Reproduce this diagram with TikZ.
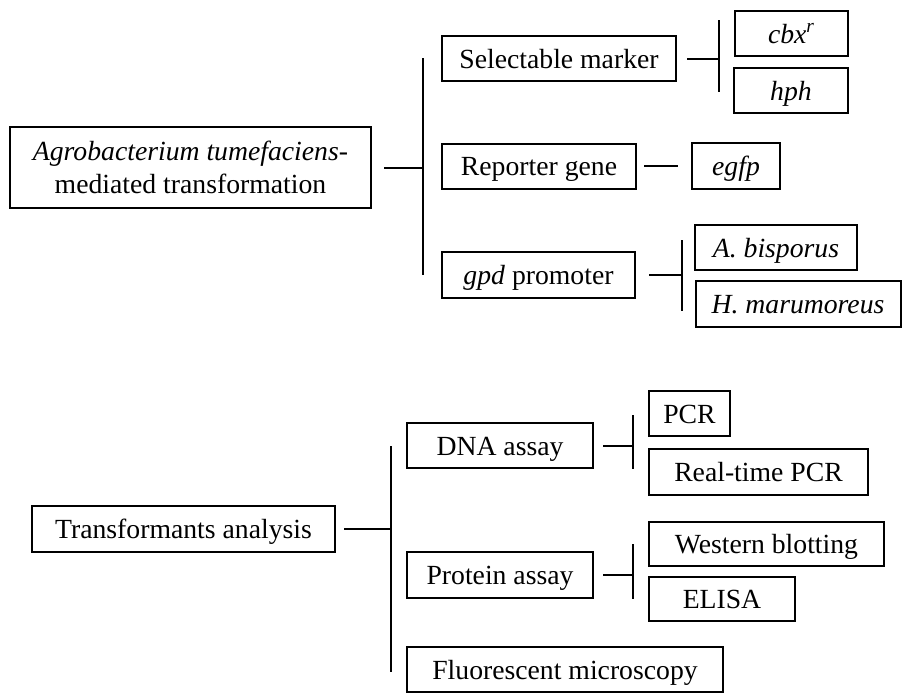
\documentclass[tikz,border=0pt]{standalone}
\usepackage{fontspec}
\setmainfont{Liberation Serif}
\usetikzlibrary{positioning}

\begin{document}
\begin{tikzpicture}[x=0.5pt, y=-0.5pt, line width=1pt,
    box/.style={draw, inner sep=0pt, minimum height=22.5pt, text height=9.5pt, text depth=0pt,
        font=\fontsize{13.85}{16.5}\selectfont},
    link/.style={shorten <=5pt}]
    \useasboundingbox (0,0) rectangle (902,693);

    % transformation part
    \node[box, minimum width=180.5pt, minimum height=40.5pt, text height=26pt, align=center] (agro) at (190.5,167.5)
        {\textit{Agrobacterium tumefaciens}-\\mediated transformation};
    \node[box, minimum width=117pt] (sel) at (559,58.5) {Selectable marker};
    \node[box, minimum width=97pt] (rep) at (539,166) {Reporter gene};
    \node[box, minimum width=96.5pt, minimum height=23pt] (gpd) at (538.5,275) {\textit{gpd} promoter};
    \node[box, minimum width=56.5pt] (cbx) at (791.5,33.5) {\textit{cbx\textsuperscript{r}}};
    \node[box, minimum width=57pt] (hph) at (791,90.5) {\textit{hph}};
    \node[box, minimum width=44pt, minimum height=23pt] (egfp) at (736,166) {\textit{egfp}};
    \node[box, minimum width=81pt] (abis) at (776,247.5) {\textit{A. bisporus}};
    \node[box, minimum width=102.5pt, minimum height=23pt] (hmar) at (798,304) {\textit{H. marumoreus}};

    \coordinate (b1a) at (423,58);  \coordinate (b1b) at (423,275);
    \coordinate (b2a) at (719,20);  \coordinate (b2b) at (719,92);
    \coordinate (b3a) at (682,240); \coordinate (b3b) at (682,311);
    \draw (b1a) -- (b1b);
    \draw (b2a) -- (b2b);
    \draw (b3a) -- (b3b);
    \draw[link, shorten <=6pt] (agro.east) -- (agro.east -| b1a);
    \draw[link] (sel.east) -- (sel.east -| b2a);
    \draw[link, shorten <=3.5pt, shorten >=6.5pt] (rep.east) -- (rep.east -| egfp.west);
    \draw[link, shorten <=6.5pt] (gpd.east) -- (gpd.east -| b3a);

    % analysis part
    \node[box, minimum width=151.5pt, minimum height=23pt] (trans) at (183.5,529) {Transformants analysis};
    \node[box, minimum width=93pt] (dna) at (500,445.5) {DNA assay};
    \node[box, minimum width=93pt, minimum height=23pt] (prot) at (500,575) {Protein assay};
    \node[box, minimum width=158pt] (fluo) at (565,669.5) {Fluorescent microscopy};
    \node[box, minimum width=40.5pt] (pcr) at (689.5,413.5) {PCR};
    \node[box, minimum width=109.5pt, minimum height=23pt] (rtpcr) at (758.5,472) {Real-time PCR};
    \node[box, minimum width=117.5pt, minimum height=22pt] (west) at (766.5,544) {Western blotting};
    \node[box, minimum width=73pt, minimum height=22pt] (elisa) at (722,599) {ELISA};

    \coordinate (b4a) at (391,446); \coordinate (b4b) at (391,672);
    \coordinate (b5a) at (633,415); \coordinate (b5b) at (633,469);
    \coordinate (b6a) at (633,544); \coordinate (b6b) at (633,599);
    \draw (b4a) -- (b4b);
    \draw (b5a) -- (b5b);
    \draw (b6a) -- (b6b);
    \draw[link, shorten <=4pt] (trans.east) -- (trans.east -| b4a);
    \draw[link, shorten <=4.5pt] (dna.east) -- (dna.east -| b5a);
    \draw[link, shorten <=4.5pt] (prot.east) -- (prot.east -| b6a);
\end{tikzpicture}
\end{document}
